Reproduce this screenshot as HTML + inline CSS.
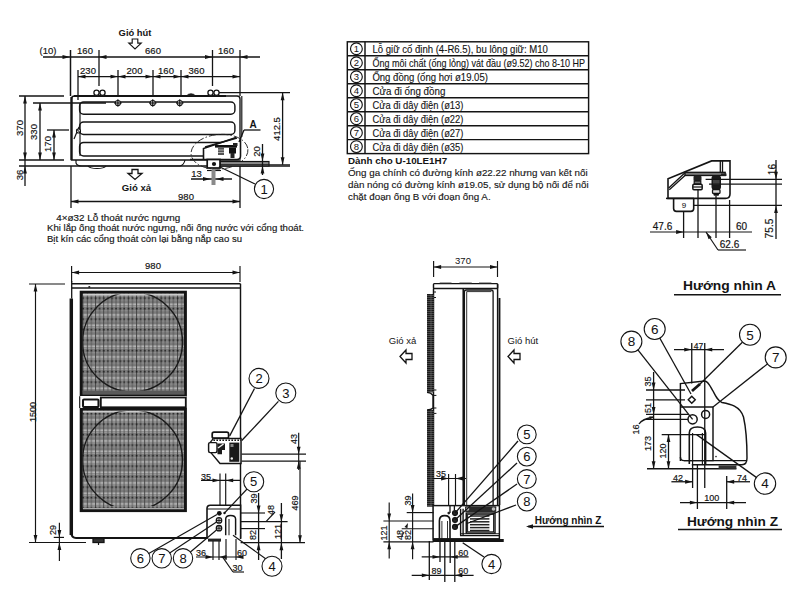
<!DOCTYPE html>
<html><head><meta charset="utf-8"><style>
html,body{margin:0;padding:0;background:#fff;width:800px;height:598px;overflow:hidden}
svg{display:block;font-family:"Liberation Sans",sans-serif}
</style></head><body>
<svg width="800" height="598" viewBox="0 0 800 598">
<defs>
<pattern id="mesh" width="8.2" height="10.5" patternUnits="userSpaceOnUse" x="102.3" y="323.3">
<rect width="8.2" height="10.5" fill="#7a7a7a"/>
<rect x="0" y="1.4" width="8.2" height="1.2" fill="#cccccc"/>
<rect x="0" y="3.6" width="8.2" height="0.9" fill="#aaaaaa"/>
<rect x="0" y="8" width="8.2" height="0.8" fill="#999"/>
<rect x="1" y="0" width="0.9" height="10.5" fill="#404040"/>
<rect x="5.1" y="0" width="0.8" height="10.5" fill="#505050"/>
<rect x="0.7" y="5.6" width="1.6" height="1.6" fill="#1e1e1e"/>
<rect x="4.8" y="5.6" width="1.5" height="1.5" fill="#262626"/>
</pattern>
<pattern id="coil" width="8" height="2" patternUnits="userSpaceOnUse" x="427" y="294">
<rect width="8" height="2" fill="#1a1a1a"/><rect y="1" width="8" height="0.6" fill="#6a6a6a"/>
</pattern>
<pattern id="heat" width="30" height="4" patternUnits="userSpaceOnUse">
<rect width="30" height="4" fill="#fff"/><rect y="1.5" width="30" height="1.5" fill="#333"/>
</pattern>
</defs>
<rect width="800" height="598" fill="#fff"/>
<text x="135" y="35.8" font-size="9.4" font-weight="bold" text-anchor="middle" fill="#141414" >Gió hút</text>
<polygon points="132.2,39 137.8,39 137.8,43.2 141.2,43.2 135,49 128.8,43.2 132.2,43.2" stroke="#141414" stroke-width="1.16" fill="#fff" />
<text x="48" y="54.2" font-size="9.5" stroke="#141414" stroke-width="0.18" text-anchor="middle" fill="#141414" >(10)</text>
<line x1="43" y1="57" x2="260" y2="57" stroke="#141414" stroke-width="1.3" />
<polygon points="70.00,57.00 62.50,55.10 62.50,58.90" fill="#141414" stroke="none"/>
<polygon points="99.00,57.00 106.50,55.10 106.50,58.90" fill="#141414" stroke="none"/>
<polygon points="212.50,57.00 205.00,55.10 205.00,58.90" fill="#141414" stroke="none"/>
<polygon points="240.00,57.00 247.50,55.10 247.50,58.90" fill="#141414" stroke="none"/>
<text x="85" y="54.2" font-size="9.5" stroke="#141414" stroke-width="0.18" text-anchor="middle" fill="#141414" >160</text>
<text x="153" y="54.2" font-size="9.5" stroke="#141414" stroke-width="0.18" text-anchor="middle" fill="#141414" >660</text>
<text x="226" y="54.2" font-size="9.5" stroke="#141414" stroke-width="0.18" text-anchor="middle" fill="#141414" >160</text>
<line x1="70.5" y1="50" x2="70.5" y2="96" stroke="#141414" stroke-width="1.49" />
<line x1="99" y1="50" x2="99" y2="86" stroke="#141414" stroke-width="1.3" />
<line x1="212.5" y1="50" x2="212.5" y2="86" stroke="#141414" stroke-width="1.3" />
<line x1="240" y1="50" x2="240" y2="96" stroke="#141414" stroke-width="1.3" />
<line x1="78" y1="76.6" x2="240" y2="76.6" stroke="#141414" stroke-width="1.3" />
<line x1="78" y1="70" x2="78" y2="100" stroke="#141414" stroke-width="1.3" />
<line x1="118" y1="70" x2="118" y2="96" stroke="#141414" stroke-width="1.3" />
<line x1="153" y1="70" x2="153" y2="96" stroke="#141414" stroke-width="1.3" />
<line x1="181" y1="70" x2="181" y2="96" stroke="#141414" stroke-width="1.3" />
<polygon points="78.00,76.60 85.50,74.70 85.50,78.50" fill="#141414" stroke="none"/>
<polygon points="118.00,76.60 110.50,74.70 110.50,78.50" fill="#141414" stroke="none"/>
<polygon points="118.00,76.60 125.50,74.70 125.50,78.50" fill="#141414" stroke="none"/>
<polygon points="153.00,76.60 145.50,74.70 145.50,78.50" fill="#141414" stroke="none"/>
<polygon points="153.00,76.60 160.50,74.70 160.50,78.50" fill="#141414" stroke="none"/>
<polygon points="181.00,76.60 173.50,74.70 173.50,78.50" fill="#141414" stroke="none"/>
<polygon points="181.00,76.60 188.50,74.70 188.50,78.50" fill="#141414" stroke="none"/>
<polygon points="240.00,76.60 232.50,74.70 232.50,78.50" fill="#141414" stroke="none"/>
<text x="88" y="74" font-size="9.5" stroke="#141414" stroke-width="0.18" text-anchor="middle" fill="#141414" >230</text>
<text x="134.5" y="74" font-size="9.5" stroke="#141414" stroke-width="0.18" text-anchor="middle" fill="#141414" >200</text>
<text x="166" y="74" font-size="9.5" stroke="#141414" stroke-width="0.18" text-anchor="middle" fill="#141414" >160</text>
<text x="196.5" y="74" font-size="9.5" stroke="#141414" stroke-width="0.18" text-anchor="middle" fill="#141414" >360</text>
<path d="M71.5,160 L71.5,99 Q71.5,96 74.5,96 L237,96 Q240,96 240,99 L240,160 Z" stroke="#141414" stroke-width="1.38" fill="none" />
<line x1="71.5" y1="97" x2="71.5" y2="160" stroke="#141414" stroke-width="2.3" />
<line x1="241.8" y1="96" x2="241.8" y2="137" stroke="#141414" stroke-width="1.16" />
<line x1="74" y1="96" x2="226" y2="96" stroke="#141414" stroke-width="2.07" />
<path d="M186.5,96 Q188,93.8 191,93.8 Q194,93.8 195.5,96 Z" stroke="#141414" stroke-width="0.87" fill="#222" />
<circle cx="96.5" cy="92.8" r="2.6" stroke="#141414" stroke-width="1.3" fill="#fff"/>
<circle cx="102.5" cy="92.8" r="2.6" stroke="#141414" stroke-width="1.3" fill="#fff"/>
<circle cx="210.5" cy="92.8" r="2.6" stroke="#141414" stroke-width="1.3" fill="#fff"/>
<circle cx="216.5" cy="92.8" r="2.6" stroke="#141414" stroke-width="1.3" fill="#fff"/>
<line x1="80" y1="103" x2="80" y2="156" stroke="#141414" stroke-width="1.16" />
<rect x="79.6" y="102" width="155.3" height="12.25" rx="4" stroke="#141414" stroke-width="1.45" fill="none" />
<rect x="79.6" y="122" width="155.3" height="12.5" rx="4" stroke="#141414" stroke-width="1.45" fill="none" />
<rect x="79.6" y="142.4" width="155.3" height="13.5" rx="4" stroke="#141414" stroke-width="1.45" fill="none" />
<circle cx="117.9" cy="103" r="2.6" stroke="#141414" stroke-width="1.01" fill="#fff"/>
<line x1="114.10000000000001" y1="103" x2="121.7" y2="103" stroke="#141414" stroke-width="1.16" />
<line x1="117.9" y1="99.2" x2="117.9" y2="106.8" stroke="#141414" stroke-width="1.16" />
<circle cx="152.75" cy="103" r="2.6" stroke="#141414" stroke-width="1.01" fill="#fff"/>
<line x1="148.95" y1="103" x2="156.55" y2="103" stroke="#141414" stroke-width="1.16" />
<line x1="152.75" y1="99.2" x2="152.75" y2="106.8" stroke="#141414" stroke-width="1.16" />
<circle cx="179.75" cy="103" r="2.6" stroke="#141414" stroke-width="1.01" fill="#fff"/>
<line x1="175.95" y1="103" x2="183.55" y2="103" stroke="#141414" stroke-width="1.16" />
<line x1="179.75" y1="99.2" x2="179.75" y2="106.8" stroke="#141414" stroke-width="1.16" />
<line x1="74" y1="139" x2="79" y2="127" stroke="#141414" stroke-width="1.16" />
<circle cx="78.5" cy="131" r="2" stroke="#141414" stroke-width="1.16" fill="#fff"/>
<line x1="76.5" y1="129" x2="80.5" y2="133" stroke="#141414" stroke-width="1.01" />
<line x1="19" y1="96" x2="64" y2="96" stroke="#141414" stroke-width="1.3" />
<line x1="33" y1="103" x2="106" y2="103" stroke="#141414" stroke-width="1.3" />
<line x1="47" y1="130" x2="69" y2="130" stroke="#141414" stroke-width="1.3" />
<line x1="19" y1="160" x2="64" y2="160" stroke="#141414" stroke-width="1.3" />
<line x1="19" y1="166" x2="290" y2="166" stroke="#141414" stroke-width="1.3" />
<path d="M76,160 L76,163 Q77,166 82,166 L180,166 Q184,165 185,160" stroke="#141414" stroke-width="1.16" fill="none" />
<path d="M88,166 Q90,168.5 97,168.5 Q104,168.5 106,166" stroke="#141414" stroke-width="1.16" fill="none" />
<line x1="25" y1="96" x2="25" y2="186" stroke="#141414" stroke-width="1.3" />
<polygon points="25.00,96.00 23.10,103.50 26.90,103.50" fill="#141414" stroke="none"/>
<polygon points="25.00,160.00 23.10,152.50 26.90,152.50" fill="#141414" stroke="none"/>
<polygon points="25.00,166.00 23.10,173.50 26.90,173.50" fill="#141414" stroke="none"/>
<line x1="40" y1="103" x2="40" y2="160" stroke="#141414" stroke-width="1.3" />
<polygon points="40.00,103.00 38.10,110.50 41.90,110.50" fill="#141414" stroke="none"/>
<polygon points="40.00,160.00 38.10,152.50 41.90,152.50" fill="#141414" stroke="none"/>
<line x1="54" y1="130" x2="54" y2="160" stroke="#141414" stroke-width="1.3" />
<polygon points="54.00,130.00 52.10,137.50 55.90,137.50" fill="#141414" stroke="none"/>
<polygon points="54.00,160.00 52.10,152.50 55.90,152.50" fill="#141414" stroke="none"/>
<text transform="translate(19.5,128) rotate(-90)" x="0" y="3.42" font-size="9.5" stroke="#141414" stroke-width="0.18" text-anchor="middle" fill="#141414" >370</text>
<text transform="translate(33.5,132) rotate(-90)" x="0" y="3.42" font-size="9.5" stroke="#141414" stroke-width="0.18" text-anchor="middle" fill="#141414" >330</text>
<text transform="translate(47.5,144) rotate(-90)" x="0" y="3.42" font-size="9.5" stroke="#141414" stroke-width="0.18" text-anchor="middle" fill="#141414" >170</text>
<text transform="translate(19.5,175) rotate(-90)" x="0" y="3.42" font-size="9.5" stroke="#141414" stroke-width="0.18" text-anchor="middle" fill="#141414" >36</text>
<polygon points="203.5,159.5 203.5,148.5 236,137.5 240.5,137.5 240.5,159.5" fill="#fff" stroke="none"/>
<path d="M203.5,159.5 L203.5,148.5 L236,137.5" stroke="#141414" stroke-width="1.59" fill="none" />
<line x1="205" y1="147" x2="237" y2="138" stroke="#141414" stroke-width="1.3" />
<path d="M240.5,137 L240.5,156 Q240.5,159.5 237,159.5 L190,159.5" stroke="#141414" stroke-width="1.59" fill="none" />
<ellipse cx="219.5" cy="151.75" rx="28.5" ry="17.3" transform="rotate(-5 219.5 151.75)" fill="none" stroke="#222" stroke-width="0.9" stroke-dasharray="7,2,1.5,2"/>
<rect x="215" y="145" width="22" height="2.6" rx="0" stroke="#141414" stroke-width="0" fill="#111" />
<rect x="233" y="143" width="4.5" height="3" rx="0" stroke="#141414" stroke-width="0" fill="#222" />
<rect x="218" y="147.5" width="6" height="7.5" rx="0" stroke="#141414" stroke-width="0" fill="#555" />
<line x1="218" y1="150" x2="224" y2="150" stroke="#bbb" stroke-width="0.87" />
<line x1="218" y1="152.5" x2="224" y2="152.5" stroke="#bbb" stroke-width="0.87" />
<rect x="229" y="147.5" width="7" height="6" rx="0" stroke="#141414" stroke-width="0" fill="#111" />
<rect x="230.5" y="153" width="4" height="5" rx="0" stroke="#141414" stroke-width="0" fill="#222" />
<rect x="220" y="161.5" width="49" height="4.5" rx="0" stroke="#141414" stroke-width="1.16" fill="#8a8a8a" />
<rect x="207.2" y="159.5" width="12.8" height="8.5" rx="0" stroke="#141414" stroke-width="1.72" fill="#fff" />
<circle cx="214" cy="164" r="2.1" stroke="#141414" stroke-width="0" fill="#111"/>
<line x1="207" y1="170.5" x2="221" y2="170.5" stroke="#141414" stroke-width="1.16" />
<line x1="220" y1="164.7" x2="290" y2="164.7" stroke="#141414" stroke-width="1.01" />
<line x1="219" y1="92.7" x2="290" y2="92.7" stroke="#141414" stroke-width="1.3" />
<line x1="282.6" y1="92.7" x2="282.6" y2="164.7" stroke="#141414" stroke-width="1.3" />
<polygon points="282.60,92.70 280.70,100.20 284.50,100.20" fill="#141414" stroke="none"/>
<polygon points="282.60,164.70 280.70,157.20 284.50,157.20" fill="#141414" stroke="none"/>
<text transform="translate(277,129) rotate(-90)" x="0" y="3.42" font-size="9.5" stroke="#141414" stroke-width="0.18" text-anchor="middle" fill="#141414" >412.5</text>
<text x="253" y="128" font-size="10" font-weight="bold" text-anchor="middle" fill="#141414" >A</text>
<line x1="244" y1="130" x2="260.5" y2="130" stroke="#141414" stroke-width="1.3" />
<line x1="244" y1="130" x2="239" y2="142" stroke="#141414" stroke-width="1.3" />
<text transform="translate(257,151.5) rotate(-90)" x="0" y="3.42" font-size="9.5" stroke="#141414" stroke-width="0.18" text-anchor="middle" fill="#141414" >20</text>
<line x1="262.5" y1="144" x2="262.5" y2="175" stroke="#141414" stroke-width="1.3" />
<polygon points="262.50,161.00 260.60,153.50 264.40,153.50" fill="#141414" stroke="none"/>
<polygon points="262.50,166.00 260.60,173.50 264.40,173.50" fill="#141414" stroke="none"/>
<line x1="255" y1="184" x2="219" y2="166.5" stroke="#141414" stroke-width="1.3" />
<circle cx="264" cy="189" r="9.6" stroke="#141414" stroke-width="1.09" fill="#fff"/>
<text x="264" y="193.68" font-size="13" stroke="#141414" stroke-width="0.05" text-anchor="middle" fill="#141414" >1</text>
<text x="196.5" y="177" font-size="9.5" stroke="#141414" stroke-width="0.18" text-anchor="middle" fill="#141414" >13</text>
<line x1="191" y1="179" x2="232" y2="179" stroke="#141414" stroke-width="1.3" />
<polygon points="210.50,179.00 203.00,177.10 203.00,180.90" fill="#141414" stroke="none"/>
<polygon points="216.00,179.00 223.50,177.10 223.50,180.90" fill="#141414" stroke="none"/>
<rect x="211.5" y="169" width="4" height="16" rx="0" stroke="#141414" stroke-width="0" fill="#8a8a8a" />
<line x1="71" y1="166" x2="71" y2="208" stroke="#141414" stroke-width="1.3" />
<line x1="240" y1="166" x2="240" y2="208" stroke="#141414" stroke-width="1.3" />
<line x1="71" y1="201.5" x2="240" y2="201.5" stroke="#141414" stroke-width="1.3" />
<polygon points="71.00,201.50 78.50,199.60 78.50,203.40" fill="#141414" stroke="none"/>
<polygon points="240.00,201.50 232.50,199.60 232.50,203.40" fill="#141414" stroke="none"/>
<text x="186" y="200" font-size="9.5" stroke="#141414" stroke-width="0.18" text-anchor="middle" fill="#141414" >980</text>
<polygon points="132,169.5 138,169.5 138,173.5 142,173.5 135,179.5 128,173.5 132,173.5" stroke="#141414" stroke-width="1.3" fill="#fff" />
<text x="136.5" y="191" font-size="9.6" font-weight="bold" text-anchor="middle" fill="#141414" >Gió xả</text>
<text x="56.3" y="220.6" font-size="9.5" stroke="#141414" stroke-width="0.15" text-anchor="start" fill="#141414" textLength="124" lengthAdjust="spacingAndGlyphs">4×ø32 Lỗ thoát nước ngưng</text>
<text x="47" y="231.2" font-size="9.5" stroke="#141414" stroke-width="0.15" text-anchor="start" fill="#141414" textLength="257" lengthAdjust="spacingAndGlyphs">Khi lắp ống thoát nước ngưng, nối ống nước với cổng thoát.</text>
<text x="47" y="241.8" font-size="9.5" stroke="#141414" stroke-width="0.15" text-anchor="start" fill="#141414" textLength="195" lengthAdjust="spacingAndGlyphs">Bịt kín các cổng thoát còn lại bằng nắp cao su</text>
<rect x="347.3" y="41.8" width="241.3" height="111.8" rx="0" stroke="#141414" stroke-width="1.45" fill="none" />
<line x1="365" y1="41.8" x2="365" y2="153.6" stroke="#141414" stroke-width="1.45" />
<line x1="347.3" y1="55.775" x2="588.6" y2="55.775" stroke="#141414" stroke-width="1.45" />
<line x1="347.3" y1="69.75" x2="588.6" y2="69.75" stroke="#141414" stroke-width="1.45" />
<line x1="347.3" y1="83.725" x2="588.6" y2="83.725" stroke="#141414" stroke-width="1.45" />
<line x1="347.3" y1="97.69999999999999" x2="588.6" y2="97.69999999999999" stroke="#141414" stroke-width="1.45" />
<line x1="347.3" y1="111.675" x2="588.6" y2="111.675" stroke="#141414" stroke-width="1.45" />
<line x1="347.3" y1="125.64999999999999" x2="588.6" y2="125.64999999999999" stroke="#141414" stroke-width="1.45" />
<line x1="347.3" y1="139.625" x2="588.6" y2="139.625" stroke="#141414" stroke-width="1.45" />
<circle cx="356.4" cy="48.787499999999994" r="5.9" stroke="#141414" stroke-width="1.16" fill="none"/>
<text x="356.4" y="52.21" font-size="9.5" text-anchor="middle" fill="#141414" >1</text>
<text x="372.4" y="53.08749999999999" font-size="10.2" stroke="#141414" stroke-width="0.12" text-anchor="start" fill="#141414" textLength="175.5" lengthAdjust="spacingAndGlyphs">Lỗ giữ cố định (4-R6.5), bu lông giữ: M10</text>
<circle cx="356.4" cy="62.762499999999996" r="5.9" stroke="#141414" stroke-width="1.16" fill="none"/>
<text x="356.4" y="66.18" font-size="9.5" text-anchor="middle" fill="#141414" >2</text>
<text x="372.4" y="67.0625" font-size="10.2" stroke="#141414" stroke-width="0.12" text-anchor="start" fill="#141414" textLength="212.5" lengthAdjust="spacingAndGlyphs">Ống môi chất (ống lỏng) vát đầu (ø9.52) cho 8-10 HP</text>
<circle cx="356.4" cy="76.7375" r="5.9" stroke="#141414" stroke-width="1.16" fill="none"/>
<text x="356.4" y="80.16" font-size="9.5" text-anchor="middle" fill="#141414" >3</text>
<text x="372.4" y="81.0375" font-size="10.2" stroke="#141414" stroke-width="0.12" text-anchor="start" fill="#141414" textLength="115.5" lengthAdjust="spacingAndGlyphs">Ống đồng (ống hơi ø19.05)</text>
<circle cx="356.4" cy="90.7125" r="5.9" stroke="#141414" stroke-width="1.16" fill="none"/>
<text x="356.4" y="94.13" font-size="9.5" text-anchor="middle" fill="#141414" >4</text>
<text x="372.4" y="95.0125" font-size="10.2" stroke="#141414" stroke-width="0.12" text-anchor="start" fill="#141414" textLength="73" lengthAdjust="spacingAndGlyphs">Cửa đi ống đồng</text>
<circle cx="356.4" cy="104.6875" r="5.9" stroke="#141414" stroke-width="1.16" fill="none"/>
<text x="356.4" y="108.11" font-size="9.5" text-anchor="middle" fill="#141414" >5</text>
<text x="372.4" y="108.9875" font-size="10.2" stroke="#141414" stroke-width="0.12" text-anchor="start" fill="#141414" textLength="91" lengthAdjust="spacingAndGlyphs">Cửa đi dây điện (ø13)</text>
<circle cx="356.4" cy="118.6625" r="5.9" stroke="#141414" stroke-width="1.16" fill="none"/>
<text x="356.4" y="122.08" font-size="9.5" text-anchor="middle" fill="#141414" >6</text>
<text x="372.4" y="122.96249999999999" font-size="10.2" stroke="#141414" stroke-width="0.12" text-anchor="start" fill="#141414" textLength="91" lengthAdjust="spacingAndGlyphs">Cửa đi dây điện (ø22)</text>
<circle cx="356.4" cy="132.6375" r="5.9" stroke="#141414" stroke-width="1.16" fill="none"/>
<text x="356.4" y="136.06" font-size="9.5" text-anchor="middle" fill="#141414" >7</text>
<text x="372.4" y="136.9375" font-size="10.2" stroke="#141414" stroke-width="0.12" text-anchor="start" fill="#141414" textLength="91" lengthAdjust="spacingAndGlyphs">Cửa đi dây điện (ø27)</text>
<circle cx="356.4" cy="146.6125" r="5.9" stroke="#141414" stroke-width="1.16" fill="none"/>
<text x="356.4" y="150.03" font-size="9.5" text-anchor="middle" fill="#141414" >8</text>
<text x="372.4" y="150.91250000000002" font-size="10.2" stroke="#141414" stroke-width="0.12" text-anchor="start" fill="#141414" textLength="91" lengthAdjust="spacingAndGlyphs">Cửa đi dây điện (ø35)</text>
<text x="348" y="164.2" font-size="9.8" font-weight="bold" text-anchor="start" fill="#141414" >Dành cho U-10LE1H7</text>
<text x="348" y="176.4" font-size="9.8" stroke="#141414" stroke-width="0.12" text-anchor="start" fill="#141414" >Ống ga chính có đường kính ø22.22 nhưng van kết nối</text>
<text x="348" y="188.3" font-size="9.8" stroke="#141414" stroke-width="0.12" text-anchor="start" fill="#141414" >dàn nóng có đường kính ø19.05, sử dụng bộ nối để nối</text>
<text x="348" y="200.3" font-size="9.8" stroke="#141414" stroke-width="0.12" text-anchor="start" fill="#141414" >chặt đoạn ống B với đoạn ống A.</text>
<path d="M668,198.4 L668,178.8 L711.6,160.9 L730,160.9 L730,194 Q730,198.4 725.5,198.4 Z" stroke="#141414" stroke-width="1.59" fill="#fff" />
<line x1="666" y1="198.4" x2="694" y2="198.4" stroke="#141414" stroke-width="1.49" />
<line x1="668.7" y1="188" x2="685" y2="172.8" stroke="#141414" stroke-width="1.3" />
<line x1="669.3" y1="189.7" x2="687.2" y2="173.4" stroke="#141414" stroke-width="1.3" />
<line x1="720.3" y1="160.9" x2="720.3" y2="172.8" stroke="#141414" stroke-width="1.3" />
<line x1="722.5" y1="160.9" x2="722.5" y2="172.8" stroke="#141414" stroke-width="1.3" />
<rect x="685" y="172.3" width="40.2" height="3.2" rx="0" stroke="#141414" stroke-width="1.3" fill="#777" />
<rect x="721" y="173.5" width="5.5" height="2.5" rx="0" stroke="#141414" stroke-width="0" fill="#222" />
<rect x="693.5" y="175.5" width="8" height="5.5" rx="1.5" stroke="#141414" stroke-width="0" fill="#222" />
<rect x="694.2" y="181" width="6.6" height="3" rx="0" stroke="#141414" stroke-width="1.16" fill="#777" />
<rect x="692.8" y="184.2" width="9.4" height="5.5" rx="1.2" stroke="#141414" stroke-width="1.45" fill="#eee" />
<line x1="692.8" y1="187" x2="702.2" y2="187" stroke="#141414" stroke-width="1.16" />
<rect x="711.5" y="175.5" width="9.5" height="14" rx="2.5" stroke="#141414" stroke-width="0" fill="#1a1a1a" />
<rect x="713" y="179" width="6.5" height="6" rx="0" stroke="#141414" stroke-width="0" fill="#444" />
<rect x="712.5" y="189.5" width="7.5" height="4" rx="1" stroke="#141414" stroke-width="1.3" fill="#ddd" />
<rect x="713.5" y="193.5" width="5.5" height="2.2" rx="1" stroke="#141414" stroke-width="0" fill="#111" />
<path d="M673.6,198.4 L673.6,208.5 Q673.6,211.4 676.5,211.4 L690.8,211.4 Q693.7,211.4 693.7,208.5 L693.7,198.4" stroke="#141414" stroke-width="1.59" fill="none" />
<text x="684" y="208.38" font-size="8" stroke="#141414" stroke-width="0.05" text-anchor="middle" fill="#141414" >9</text>
<line x1="705.6" y1="179.3" x2="782" y2="179.3" stroke="#141414" stroke-width="1.3" />
<line x1="709" y1="184.2" x2="782" y2="184.2" stroke="#141414" stroke-width="1.3" />
<line x1="693.7" y1="205.4" x2="782" y2="205.4" stroke="#141414" stroke-width="1.3" />
<line x1="776" y1="160" x2="776" y2="239" stroke="#141414" stroke-width="1.3" />
<polygon points="776.00,179.30 774.10,171.80 777.90,171.80" fill="#141414" stroke="none"/>
<polygon points="776.00,205.40 774.10,212.90 777.90,212.90" fill="#141414" stroke="none"/>
<text transform="translate(772,169.5) rotate(-90)" x="0" y="3.67" font-size="10.2" stroke="#141414" stroke-width="0.18" text-anchor="middle" fill="#141414" >16</text>
<text transform="translate(769,228.5) rotate(-90)" x="0" y="3.67" font-size="10.2" stroke="#141414" stroke-width="0.18" text-anchor="middle" fill="#141414" >75.5</text>
<line x1="683.6" y1="211.4" x2="683.6" y2="238" stroke="#141414" stroke-width="1.3" />
<line x1="698" y1="189.7" x2="698" y2="238" stroke="#141414" stroke-width="1.3" />
<line x1="716" y1="195.7" x2="716" y2="238" stroke="#141414" stroke-width="1.3" />
<line x1="729.6" y1="200" x2="729.6" y2="238" stroke="#141414" stroke-width="1.3" />
<line x1="650" y1="232" x2="752" y2="232" stroke="#141414" stroke-width="1.16" />
<polygon points="683.60,232.00 676.10,230.10 676.10,233.90" fill="#141414" stroke="none"/>
<text x="662.5" y="230" font-size="10" stroke="#141414" stroke-width="0.18" text-anchor="middle" fill="#141414" >47.6</text>
<text x="741.5" y="230" font-size="10" stroke="#141414" stroke-width="0.18" text-anchor="middle" fill="#141414" >60</text>
<line x1="706" y1="232" x2="718" y2="250" stroke="#141414" stroke-width="1.16" />
<line x1="718" y1="250" x2="746" y2="250" stroke="#141414" stroke-width="1.16" />
<polygon points="706.00,232.00 711.74,237.19 708.58,239.29" fill="#141414" stroke="none"/>
<text x="729.5" y="248" font-size="10" stroke="#141414" stroke-width="0.18" text-anchor="middle" fill="#141414" >62.6</text>
<text x="729.5" y="290" font-size="13.6" font-weight="bold" text-anchor="middle" fill="#141414" textLength="93" lengthAdjust="spacingAndGlyphs">Hướng nhìn A</text>
<line x1="674" y1="294.7" x2="781" y2="294.7" stroke="#141414" stroke-width="1.49" />
<line x1="691.75" y1="343" x2="691.75" y2="383.6" stroke="#141414" stroke-width="1.3" />
<line x1="704.75" y1="343" x2="704.75" y2="488" stroke="#141414" stroke-width="1.3" />
<line x1="674" y1="349.6" x2="724" y2="349.6" stroke="#141414" stroke-width="1.3" />
<polygon points="691.75,349.60 684.25,347.70 684.25,351.50" fill="#141414" stroke="none"/>
<polygon points="704.75,349.60 712.25,347.70 712.25,351.50" fill="#141414" stroke="none"/>
<text x="698.5" y="349" font-size="8.5" stroke="#141414" stroke-width="0.18" text-anchor="middle" fill="#141414" >47</text>
<path d="M680.4,461 L680.4,383.6 L704.75,381 C708,381 710,386 713,391 C716,397 718,401 722,402.5 C730,404 740,406 743.5,417 C746,428 747,445 747,458 Q747,464.7 742,464.7 L691.75,464.7" stroke="#141414" stroke-width="1.45" fill="none" />
<path d="M680.4,407 L713,407 L713,460.6 L684,460.6 Q680.4,460.6 680.4,457" stroke="#141414" stroke-width="1.45" fill="none" />
<line x1="684" y1="460.6" x2="747" y2="460.6" stroke="#141414" stroke-width="1.3" />
<circle cx="692.6" cy="419.3" r="4.6" stroke="#141414" stroke-width="1.49" fill="none"/>
<circle cx="705.6" cy="414.4" r="4" stroke="#141414" stroke-width="1.49" fill="none"/>
<polygon points="691.75,396.3 695.25,399.8 691.75,403.3 688.25,399.8" stroke="#141414" stroke-width="1.45" fill="none" />
<path d="M700,384 L692,391" stroke="#141414" stroke-width="2.76" fill="none" />
<path d="M689.3,464 L689.3,433 Q689.3,427 697.45,427 Q705.6,427 705.6,433 L705.6,464" stroke="#141414" stroke-width="1.59" fill="none" />
<line x1="692.6" y1="433" x2="692.6" y2="464" stroke="#141414" stroke-width="1.16" />
<line x1="702.4" y1="433" x2="702.4" y2="464" stroke="#141414" stroke-width="1.16" />
<line x1="647" y1="468.75" x2="736.4" y2="468.75" stroke="#141414" stroke-width="1.45" />
<rect x="718.6" y="465.5" width="17.8" height="3.3" rx="0" stroke="#141414" stroke-width="0" fill="#333" />
<circle cx="716" cy="456.6" r="0.8" stroke="#141414" stroke-width="0" fill="#222"/>
<line x1="646" y1="390" x2="685" y2="390" stroke="#141414" stroke-width="1.3" />
<line x1="646" y1="399.8" x2="685" y2="399.8" stroke="#141414" stroke-width="1.3" />
<line x1="646" y1="414.4" x2="688" y2="414.4" stroke="#141414" stroke-width="1.3" />
<line x1="646" y1="419.3" x2="688" y2="419.3" stroke="#141414" stroke-width="1.3" />
<line x1="661.7" y1="434.6" x2="704.75" y2="434.6" stroke="#141414" stroke-width="1.3" />
<line x1="653.6" y1="372" x2="653.6" y2="468.75" stroke="#141414" stroke-width="1.3" />
<polygon points="653.60,468.75 651.70,461.25 655.50,461.25" fill="#141414" stroke="none"/>
<polygon points="653.60,390.00 651.70,382.50 655.50,382.50" fill="#141414" stroke="none"/>
<polygon points="653.60,414.40 651.70,406.90 655.50,406.90" fill="#141414" stroke="none"/>
<line x1="668.5" y1="434.6" x2="668.5" y2="468.75" stroke="#141414" stroke-width="1.3" />
<polygon points="668.50,434.60 666.60,442.10 670.40,442.10" fill="#141414" stroke="none"/>
<polygon points="668.50,468.75 666.60,461.25 670.40,461.25" fill="#141414" stroke="none"/>
<text transform="translate(648.2,443.5) rotate(-90)" x="0" y="3.24" font-size="9" stroke="#141414" stroke-width="0.18" text-anchor="middle" fill="#141414" >173</text>
<text transform="translate(662.4,451) rotate(-90)" x="0" y="3.24" font-size="9" stroke="#141414" stroke-width="0.18" text-anchor="middle" fill="#141414" >120</text>
<text transform="translate(648.2,408) rotate(-90)" x="0" y="3.24" font-size="9" stroke="#141414" stroke-width="0.18" text-anchor="middle" fill="#141414" >51</text>
<text transform="translate(648.2,381.5) rotate(-90)" x="0" y="3.24" font-size="9" stroke="#141414" stroke-width="0.18" text-anchor="middle" fill="#141414" >35</text>
<text transform="translate(636,429.5) rotate(-90)" x="0" y="3.24" font-size="9" stroke="#141414" stroke-width="0.18" text-anchor="middle" fill="#141414" >16</text>
<path d="M639,424 Q642,419 653.6,417" stroke="#141414" stroke-width="1.3" fill="none" />
<polygon points="653.60,417.00 649.92,419.16 649.40,416.21" fill="#141414" stroke="none"/>
<line x1="692.6" y1="464.7" x2="692.6" y2="488" stroke="#141414" stroke-width="1.3" />
<line x1="697.4" y1="464.7" x2="697.4" y2="509" stroke="#141414" stroke-width="1.3" />
<line x1="726.7" y1="476" x2="726.7" y2="509" stroke="#141414" stroke-width="1.3" />
<line x1="671.4" y1="481.75" x2="692.6" y2="481.75" stroke="#141414" stroke-width="1.3" />
<polygon points="692.60,481.75 685.10,479.85 685.10,483.65" fill="#141414" stroke="none"/>
<line x1="726.7" y1="481.75" x2="750" y2="481.75" stroke="#141414" stroke-width="1.3" />
<polygon points="726.70,481.75 734.20,479.85 734.20,483.65" fill="#141414" stroke="none"/>
<text x="678" y="481" font-size="9" stroke="#141414" stroke-width="0.18" text-anchor="middle" fill="#141414" >42</text>
<text x="742" y="481" font-size="9" stroke="#141414" stroke-width="0.18" text-anchor="middle" fill="#141414" >74</text>
<line x1="680" y1="502.6" x2="746" y2="502.6" stroke="#141414" stroke-width="1.3" />
<polygon points="697.40,502.60 689.90,500.70 689.90,504.50" fill="#141414" stroke="none"/>
<polygon points="726.70,502.60 734.20,500.70 734.20,504.50" fill="#141414" stroke="none"/>
<text x="711.7" y="501" font-size="9" stroke="#141414" stroke-width="0.18" text-anchor="middle" fill="#141414" >100</text>
<line x1="654.7" y1="329" x2="691" y2="394" stroke="#141414" stroke-width="1.3" />
<line x1="631.4" y1="341.6" x2="692.6" y2="419.3" stroke="#141414" stroke-width="1.3" />
<line x1="750" y1="334.8" x2="699" y2="385" stroke="#141414" stroke-width="1.3" />
<line x1="775.7" y1="357.4" x2="713" y2="407" stroke="#141414" stroke-width="1.3" />
<line x1="765" y1="483.6" x2="696.6" y2="434.6" stroke="#141414" stroke-width="1.3" />
<circle cx="654.7" cy="329" r="10.5" stroke="#141414" stroke-width="1.09" fill="#fff"/>
<text x="654.7" y="333.86" font-size="13.5" stroke="#141414" stroke-width="0.05" text-anchor="middle" fill="#141414" >6</text>
<circle cx="631.4" cy="341.6" r="10.5" stroke="#141414" stroke-width="1.09" fill="#fff"/>
<text x="631.4" y="346.46" font-size="13.5" stroke="#141414" stroke-width="0.05" text-anchor="middle" fill="#141414" >8</text>
<circle cx="750" cy="334.8" r="10.5" stroke="#141414" stroke-width="1.09" fill="#fff"/>
<text x="750" y="339.66" font-size="13.5" stroke="#141414" stroke-width="0.05" text-anchor="middle" fill="#141414" >5</text>
<circle cx="775.7" cy="357.4" r="10.5" stroke="#141414" stroke-width="1.09" fill="#fff"/>
<text x="775.7" y="362.26" font-size="13.5" stroke="#141414" stroke-width="0.05" text-anchor="middle" fill="#141414" >7</text>
<circle cx="765" cy="483.6" r="10.7" stroke="#141414" stroke-width="1.09" fill="#fff"/>
<text x="765" y="488.46" font-size="13.5" stroke="#141414" stroke-width="0.05" text-anchor="middle" fill="#141414" >4</text>
<text x="732.5" y="526" font-size="13.6" font-weight="bold" text-anchor="middle" fill="#141414" textLength="91" lengthAdjust="spacingAndGlyphs">Hướng nhìn Z</text>
<line x1="678" y1="529.6" x2="782" y2="529.6" stroke="#141414" stroke-width="1.49" />
<line x1="71.6" y1="266" x2="71.6" y2="282" stroke="#141414" stroke-width="1.16" />
<line x1="240" y1="266" x2="240" y2="282" stroke="#141414" stroke-width="1.16" />
<line x1="71.6" y1="272.5" x2="240" y2="272.5" stroke="#141414" stroke-width="1.16" />
<polygon points="71.60,272.50 79.10,270.60 79.10,274.40" fill="#141414" stroke="none"/>
<polygon points="240.00,272.50 232.50,270.60 232.50,274.40" fill="#141414" stroke="none"/>
<text x="153" y="269" font-size="9.5" stroke="#141414" stroke-width="0.18" text-anchor="middle" fill="#141414" >980</text>
<line x1="71.7" y1="283.8" x2="240.5" y2="283.8" stroke="#141414" stroke-width="1.61" />
<line x1="71.7" y1="288" x2="240.5" y2="288" stroke="#141414" stroke-width="1.45" />
<line x1="240.5" y1="283.8" x2="240.5" y2="538" stroke="#141414" stroke-width="1.45" />
<line x1="71.7" y1="281" x2="71.7" y2="298.4" stroke="#141414" stroke-width="1.3" />
<line x1="71.3" y1="298.4" x2="71.3" y2="535" stroke="#141414" stroke-width="3.45" />
<path d="M71.3,533 Q71.8,538 76,538 L240.5,538" stroke="#141414" stroke-width="2.07" fill="none" />
<circle cx="89.3" cy="287" r="1.1" stroke="#141414" stroke-width="0" fill="#222"/>
<rect x="81.2" y="292.2" width="104.2" height="102.8" rx="0" stroke="#141414" stroke-width="2.99" fill="url(#mesh)" />
<line x1="83" y1="294.6" x2="184" y2="294.6" stroke="#ccc" stroke-width="1.59" />
<rect x="82.5" y="390.5" width="102" height="4.2" rx="0" stroke="#141414" stroke-width="0" fill="#5a5a5a" />
<clipPath id="cp291"><rect x="82.5" y="294.5" width="102" height="96"/></clipPath>
<circle cx="132.5" cy="342" r="50" fill="none" stroke="#1a1a1a" stroke-width="1.4" clip-path="url(#cp291)"/>
<rect x="81.2" y="409.2" width="104.2" height="101.40000000000002" rx="0" stroke="#141414" stroke-width="2.99" fill="url(#mesh)" />
<line x1="83" y1="411.6" x2="184" y2="411.6" stroke="#ccc" stroke-width="1.59" />
<line x1="83" y1="508.6" x2="184" y2="508.6" stroke="#aaa" stroke-width="1.45" />
<clipPath id="cp408"><rect x="82.5" y="411.5" width="102" height="94.60000000000002"/></clipPath>
<circle cx="132.5" cy="460" r="50" fill="none" stroke="#1a1a1a" stroke-width="1.4" clip-path="url(#cp408)"/>
<rect x="80" y="396" width="106.4" height="12" rx="0" stroke="#141414" stroke-width="0" fill="#fff" />
<rect x="83" y="399.5" width="15.5" height="7.6" rx="1" stroke="#141414" stroke-width="2.07" fill="#fff" />
<rect x="100.8" y="397.5" width="85" height="9.8" rx="0" stroke="#141414" stroke-width="1.84" fill="#fff" />
<line x1="79.7" y1="396.2" x2="79.7" y2="408" stroke="#141414" stroke-width="1.16" />
<line x1="29" y1="284" x2="65" y2="284" stroke="#141414" stroke-width="1.16" />
<line x1="29" y1="542.5" x2="86" y2="542.5" stroke="#141414" stroke-width="1.16" />
<line x1="35.5" y1="284" x2="35.5" y2="542.5" stroke="#141414" stroke-width="1.16" />
<polygon points="35.50,284.00 33.60,291.50 37.40,291.50" fill="#141414" stroke="none"/>
<polygon points="35.50,542.50 33.60,535.00 37.40,535.00" fill="#141414" stroke="none"/>
<text transform="translate(33,412) rotate(-90)" x="0" y="3.24" font-size="9" stroke="#141414" stroke-width="0.18" text-anchor="middle" fill="#141414" >1500</text>
<line x1="53.75" y1="537.4" x2="64" y2="537.4" stroke="#141414" stroke-width="1.16" />
<line x1="59.4" y1="522.7" x2="59.4" y2="561" stroke="#141414" stroke-width="1.16" />
<polygon points="59.40,537.40 57.50,529.90 61.30,529.90" fill="#141414" stroke="none"/>
<polygon points="59.40,542.50 57.50,550.00 61.30,550.00" fill="#141414" stroke="none"/>
<text transform="translate(53,530) rotate(-90)" x="0" y="3.24" font-size="9" stroke="#141414" stroke-width="0.18" text-anchor="middle" fill="#141414" >29</text>
<rect x="93" y="538.5" width="11" height="4" rx="0" stroke="#141414" stroke-width="1.3" fill="#333" />
<line x1="98.5" y1="542.5" x2="98.5" y2="545" stroke="#141414" stroke-width="1.16" />
<rect x="212.2" y="432.2" width="16.4" height="6" rx="1.8" stroke="#141414" stroke-width="1.72" fill="#fff" />
<path d="M213.4,438.5 L241,438.5 L241,463.5 L220,463.5 L210.9,452.6" stroke="#141414" stroke-width="1.45" fill="#fff" />
<line x1="213.4" y1="440.3" x2="241" y2="440.3" stroke="#141414" stroke-width="1.45" stroke-dasharray="1.6,1.4"/>
<rect x="208.6" y="442.6" width="8.4" height="10" rx="1.5" stroke="#141414" stroke-width="1.45" fill="#fff" />
<line x1="213.4" y1="438.5" x2="210" y2="442.6" stroke="#141414" stroke-width="1.3" />
<path d="M217.5,443.5 L225,443.5 L225,450 L222,450 L222,454.3 L217.5,454.3 Z" stroke="#141414" stroke-width="0.0" fill="#1a1a1a" />
<line x1="218" y1="448" x2="223.5" y2="444" stroke="#eee" stroke-width="1.45" />
<rect x="229.3" y="442.6" width="10" height="19.2" rx="0" stroke="#141414" stroke-width="0" fill="#1a1a1a" />
<rect x="230.5" y="444" width="3" height="3" rx="0" stroke="#141414" stroke-width="0" fill="#888" />
<circle cx="231.8" cy="458.5" r="1.2" stroke="#141414" stroke-width="0" fill="#eee"/>
<line x1="241.6" y1="454.2" x2="306" y2="454.2" stroke="#141414" stroke-width="1.3" />
<line x1="241.6" y1="461.2" x2="306" y2="461.2" stroke="#141414" stroke-width="1.3" />
<text transform="translate(294,439) rotate(-90)" x="0" y="3.24" font-size="9" stroke="#141414" stroke-width="0.18" text-anchor="middle" fill="#141414" >43</text>
<line x1="298.7" y1="432.7" x2="298.7" y2="470" stroke="#141414" stroke-width="1.16" />
<polygon points="298.70,454.20 296.80,446.70 300.60,446.70" fill="#141414" stroke="none"/>
<polygon points="298.70,461.20 296.80,468.70 300.60,468.70" fill="#141414" stroke="none"/>
<line x1="254.5" y1="388.5" x2="229.7" y2="435.9" stroke="#141414" stroke-width="1.3" />
<line x1="278.4" y1="401.4" x2="241.8" y2="440.5" stroke="#141414" stroke-width="1.3" />
<circle cx="259" cy="378.4" r="10" stroke="#141414" stroke-width="1.09" fill="#fff"/>
<text x="259" y="383.08" font-size="13" stroke="#141414" stroke-width="0.05" text-anchor="middle" fill="#141414" >2</text>
<circle cx="285.8" cy="393" r="10" stroke="#141414" stroke-width="1.09" fill="#fff"/>
<text x="285.8" y="397.68" font-size="13" stroke="#141414" stroke-width="0.05" text-anchor="middle" fill="#141414" >3</text>
<path d="M207,539 L207,508.6 Q207,505.3 210.3,505.3 L240.6,505.3 L240.6,539" stroke="#141414" stroke-width="1.59" fill="#fff" />
<line x1="207" y1="509" x2="240.6" y2="509" stroke="#141414" stroke-width="1.16" />
<circle cx="219.3" cy="513.3" r="2.4" stroke="#141414" stroke-width="0" fill="#111"/>
<circle cx="219" cy="520.4" r="2.7" stroke="#141414" stroke-width="1.3" fill="#fff"/>
<line x1="216.3" y1="520.4" x2="221.7" y2="520.4" stroke="#141414" stroke-width="1.01" />
<line x1="219" y1="517.6999999999999" x2="219" y2="523.1" stroke="#141414" stroke-width="1.01" />
<circle cx="219" cy="528.2" r="2.7" stroke="#141414" stroke-width="1.3" fill="#fff"/>
<line x1="216.3" y1="528.2" x2="221.7" y2="528.2" stroke="#141414" stroke-width="1.01" />
<line x1="219" y1="525.5" x2="219" y2="530.9000000000001" stroke="#141414" stroke-width="1.01" />
<circle cx="224.5" cy="513" r="1.2" stroke="#141414" stroke-width="0" fill="#111"/>
<line x1="229" y1="519" x2="229" y2="535.3" stroke="#141414" stroke-width="1.01" />
<path d="M225.7,535.3 L225.7,519 Q225.7,515.5 230.6,515.5 Q235.6,515.5 235.6,519 L235.6,535.3" stroke="#141414" stroke-width="1.45" fill="none" />
<text x="206" y="480" font-size="9" stroke="#141414" stroke-width="0.18" text-anchor="middle" fill="#141414" >35</text>
<line x1="201" y1="480.4" x2="240" y2="480.4" stroke="#141414" stroke-width="1.16" />
<polygon points="220.00,480.40 212.50,478.50 212.50,482.30" fill="#141414" stroke="none"/>
<polygon points="225.70,480.40 233.20,478.50 233.20,482.30" fill="#141414" stroke="none"/>
<line x1="220" y1="473.5" x2="220" y2="505.6" stroke="#141414" stroke-width="1.16" />
<line x1="225.7" y1="473.5" x2="225.7" y2="505.6" stroke="#141414" stroke-width="1.16" />
<line x1="248" y1="488" x2="224.5" y2="513" stroke="#141414" stroke-width="1.16" />
<circle cx="253.7" cy="481.7" r="10" stroke="#141414" stroke-width="1.09" fill="#fff"/>
<text x="253.7" y="486.38" font-size="13" stroke="#141414" stroke-width="0.05" text-anchor="middle" fill="#141414" >5</text>
<line x1="240.6" y1="513" x2="265" y2="513" stroke="#141414" stroke-width="1.16" />
<line x1="240.6" y1="521.7" x2="287.6" y2="521.7" stroke="#141414" stroke-width="1.16" />
<line x1="240.6" y1="528.6" x2="265" y2="528.6" stroke="#141414" stroke-width="1.16" />
<line x1="240.6" y1="542.7" x2="305" y2="542.7" stroke="#141414" stroke-width="1.16" />
<line x1="258.6" y1="493" x2="258.6" y2="560" stroke="#141414" stroke-width="1.3" />
<polygon points="258.60,513.00 256.70,505.50 260.50,505.50" fill="#141414" stroke="none"/>
<polygon points="258.60,542.70 256.70,550.20 260.50,550.20" fill="#141414" stroke="none"/>
<line x1="281.4" y1="503" x2="281.4" y2="559" stroke="#141414" stroke-width="1.3" />
<polygon points="281.40,521.70 279.50,514.20 283.30,514.20" fill="#141414" stroke="none"/>
<polygon points="281.40,542.70 279.50,550.20 283.30,550.20" fill="#141414" stroke="none"/>
<line x1="300" y1="461.2" x2="300" y2="542.7" stroke="#141414" stroke-width="1.16" />
<polygon points="300.00,542.70 298.10,535.20 301.90,535.20" fill="#141414" stroke="none"/>
<line x1="266" y1="521.7" x2="275" y2="512" stroke="#141414" stroke-width="1.16" />
<text transform="translate(253.6,498.5) rotate(-90)" x="0" y="3.24" font-size="9" stroke="#141414" stroke-width="0.18" text-anchor="middle" fill="#141414" >39</text>
<text transform="translate(271,510) rotate(-90)" x="0" y="3.24" font-size="9" stroke="#141414" stroke-width="0.18" text-anchor="middle" fill="#141414" >48</text>
<text transform="translate(253,535) rotate(-90)" x="0" y="3.24" font-size="9" stroke="#141414" stroke-width="0.18" text-anchor="middle" fill="#141414" >82</text>
<text transform="translate(277.7,531.5) rotate(-90)" x="0" y="3.24" font-size="9" stroke="#141414" stroke-width="0.18" text-anchor="middle" fill="#141414" >121</text>
<text transform="translate(295,503) rotate(-90)" x="0" y="3.24" font-size="9" stroke="#141414" stroke-width="0.18" text-anchor="middle" fill="#141414" >469</text>
<line x1="213" y1="539" x2="213" y2="560" stroke="#141414" stroke-width="1.16" />
<line x1="219" y1="539" x2="219" y2="560" stroke="#141414" stroke-width="1.16" />
<line x1="226" y1="539" x2="226" y2="560" stroke="#141414" stroke-width="1.16" />
<line x1="236" y1="539" x2="236" y2="560" stroke="#141414" stroke-width="1.16" />
<rect x="208" y="538.6" width="13" height="3" rx="0" stroke="#141414" stroke-width="0" fill="#222" />
<text x="201" y="556" font-size="9" stroke="#141414" stroke-width="0.18" text-anchor="middle" fill="#141414" >36</text>
<line x1="196" y1="557" x2="240" y2="557" stroke="#141414" stroke-width="1.16" />
<polygon points="213.00,557.00 205.50,555.10 205.50,558.90" fill="#141414" stroke="none"/>
<polygon points="219.00,557.00 226.50,555.10 226.50,558.90" fill="#141414" stroke="none"/>
<text x="242" y="556" font-size="9" stroke="#141414" stroke-width="0.18" text-anchor="middle" fill="#141414" >60</text>
<polygon points="236.00,557.00 243.50,555.10 243.50,558.90" fill="#141414" stroke="none"/>
<text x="237.5" y="571" font-size="9" stroke="#141414" stroke-width="0.18" text-anchor="middle" fill="#141414" >30</text>
<line x1="223" y1="557.6" x2="233" y2="572" stroke="#141414" stroke-width="1.16" />
<line x1="233" y1="572" x2="244" y2="572" stroke="#141414" stroke-width="1.16" />
<line x1="266" y1="559" x2="233" y2="535.3" stroke="#141414" stroke-width="1.16" />
<circle cx="272" cy="566.2" r="10" stroke="#141414" stroke-width="1.09" fill="#fff"/>
<text x="272" y="570.88" font-size="13" stroke="#141414" stroke-width="0.05" text-anchor="middle" fill="#141414" >4</text>
<line x1="140.4" y1="558.3" x2="217" y2="514.5" stroke="#141414" stroke-width="1.16" />
<line x1="161.75" y1="558.3" x2="216.5" y2="522" stroke="#141414" stroke-width="1.16" />
<line x1="183" y1="558.3" x2="216.5" y2="530" stroke="#141414" stroke-width="1.16" />
<circle cx="140.4" cy="558.3" r="9.7" stroke="#141414" stroke-width="1.09" fill="#fff"/>
<text x="140.4" y="562.98" font-size="13" stroke="#141414" stroke-width="0.05" text-anchor="middle" fill="#141414" >6</text>
<circle cx="161.75" cy="558.3" r="9.7" stroke="#141414" stroke-width="1.09" fill="#fff"/>
<text x="161.75" y="562.98" font-size="13" stroke="#141414" stroke-width="0.05" text-anchor="middle" fill="#141414" >7</text>
<circle cx="183" cy="558.3" r="9.7" stroke="#141414" stroke-width="1.09" fill="#fff"/>
<text x="183" y="562.98" font-size="13" stroke="#141414" stroke-width="0.05" text-anchor="middle" fill="#141414" >8</text>
<line x1="433.6" y1="261" x2="433.6" y2="277" stroke="#141414" stroke-width="1.16" />
<line x1="497.5" y1="261" x2="497.5" y2="277" stroke="#141414" stroke-width="1.16" />
<line x1="433.6" y1="267" x2="497.5" y2="267" stroke="#141414" stroke-width="1.16" />
<polygon points="433.60,267.00 441.10,265.10 441.10,268.90" fill="#141414" stroke="none"/>
<polygon points="497.50,267.00 490.00,265.10 490.00,268.90" fill="#141414" stroke="none"/>
<text x="463" y="264" font-size="9.5" text-anchor="middle" fill="#141414" >370</text>
<rect x="433.5" y="283.6" width="64.1" height="4.9" rx="0.8" stroke="#141414" stroke-width="1.45" fill="none" />
<rect x="439.7" y="282.6" width="11.800000000000011" height="1.4" rx="0" stroke="#141414" stroke-width="0" fill="#222" />
<rect x="459.4" y="282.6" width="12.350000000000023" height="1.4" rx="0" stroke="#141414" stroke-width="0" fill="#222" />
<rect x="479" y="282.6" width="12.399999999999977" height="1.4" rx="0" stroke="#141414" stroke-width="0" fill="#222" />
<line x1="433.5" y1="288.5" x2="433.5" y2="538.5" stroke="#141414" stroke-width="1.45" />
<line x1="463.3" y1="288.5" x2="463.3" y2="507" stroke="#141414" stroke-width="1.72" />
<path d="M464.4,507 L464.4,292 Q464.4,290 466.4,290 L491,290 Q493.1,290 493.1,292 L493.1,507" stroke="#141414" stroke-width="1.3" fill="none" />
<line x1="466.7" y1="291.6" x2="466.7" y2="507" stroke="#141414" stroke-width="0.87" />
<line x1="466.7" y1="291.6" x2="491.4" y2="291.6" stroke="#141414" stroke-width="0.87" />
<line x1="497.6" y1="283.8" x2="497.6" y2="538.5" stroke="#141414" stroke-width="1.45" />
<line x1="499.5" y1="298" x2="499.5" y2="505" stroke="#141414" stroke-width="1.84" />
<line x1="434" y1="292" x2="436" y2="292" stroke="#141414" stroke-width="1.01" />
<line x1="434" y1="297.5" x2="436" y2="297.5" stroke="#141414" stroke-width="1.01" />
<rect x="427" y="294" width="7" height="98.39999999999998" rx="0" stroke="#141414" stroke-width="0" fill="url(#coil)" />
<line x1="431" y1="294" x2="431" y2="392.4" stroke="#777" stroke-width="0.58" />
<rect x="427" y="410" width="7" height="96.69999999999999" rx="0" stroke="#141414" stroke-width="0" fill="url(#coil)" />
<line x1="431" y1="410" x2="431" y2="506.7" stroke="#777" stroke-width="0.58" />
<path d="M427,392.4 Q431,392.6 433,395.4 L433,408 Q431,410 427,410" stroke="#141414" stroke-width="1.45" fill="#fff" />
<line x1="434" y1="390" x2="436.4" y2="390" stroke="#141414" stroke-width="1.01" />
<line x1="434" y1="395.4" x2="436.4" y2="395.4" stroke="#141414" stroke-width="1.01" />
<line x1="434" y1="408" x2="436.4" y2="408" stroke="#141414" stroke-width="1.01" />
<line x1="434" y1="413.4" x2="436.4" y2="413.4" stroke="#141414" stroke-width="1.01" />
<text x="402.5" y="344" font-size="9.5" text-anchor="middle" fill="#141414" >Gió xả</text>
<text x="507.6" y="344" font-size="9.5" text-anchor="start" fill="#141414" >Gió hút</text>
<polygon points="400,356.5 406,350 406,353.5 412,353.5 412,359.5 406,359.5 406,363" stroke="#141414" stroke-width="1.3" fill="#fff" />
<polygon points="508,356.5 514,350 514,353.5 520,353.5 520,359.5 514,359.5 514,363" stroke="#141414" stroke-width="1.3" fill="#fff" />
<rect x="433.1" y="505.6" width="66.3" height="33.2" rx="0" stroke="#141414" stroke-width="1.45" fill="#fff" />
<line x1="432.5" y1="540.6" x2="503.75" y2="540.6" stroke="#141414" stroke-width="2.99" />
<line x1="450" y1="505.6" x2="450" y2="513" stroke="#141414" stroke-width="1.3" />
<line x1="454.4" y1="505.6" x2="454.4" y2="510" stroke="#141414" stroke-width="1.3" />
<rect x="465" y="506.25" width="31.25" height="5.65" rx="1" stroke="#141414" stroke-width="0" fill="#2a2a2a" />
<circle cx="467.5" cy="509" r="1.8" stroke="#141414" stroke-width="0" fill="#bbb"/>
<circle cx="493.5" cy="509" r="1.8" stroke="#141414" stroke-width="0" fill="#bbb"/>
<rect x="466.25" y="513" width="28.75" height="20.1" rx="0" stroke="#141414" stroke-width="1.45" fill="#fff" />
<rect x="467.6" y="514.3" width="26" height="17.5" rx="0" stroke="#141414" stroke-width="1.01" fill="#fff" />
<line x1="470" y1="516.0" x2="489.4" y2="516.0" stroke="#222" stroke-width="1.49" />
<line x1="470" y1="518.9" x2="489.4" y2="518.9" stroke="#222" stroke-width="1.49" />
<line x1="470" y1="521.8" x2="489.4" y2="521.8" stroke="#222" stroke-width="1.49" />
<line x1="470" y1="524.7" x2="489.4" y2="524.7" stroke="#222" stroke-width="1.49" />
<line x1="470" y1="527.6" x2="489.4" y2="527.6" stroke="#222" stroke-width="1.49" />
<line x1="470" y1="530.5" x2="489.4" y2="530.5" stroke="#222" stroke-width="1.49" />
<line x1="460.6" y1="508.75" x2="460.6" y2="535.6" stroke="#141414" stroke-width="1.38" />
<line x1="463.1" y1="508.75" x2="463.1" y2="535.6" stroke="#141414" stroke-width="1.38" />
<line x1="460" y1="533.75" x2="499.4" y2="533.75" stroke="#141414" stroke-width="1.16" />
<line x1="460" y1="535.6" x2="499.4" y2="535.6" stroke="#141414" stroke-width="1.16" />
<path d="M439.4,538.8 L439.4,520.8 Q439.4,515.6 444.7,515.6 Q450,515.6 450,520.8 L450,538.8" stroke="#141414" stroke-width="1.59" fill="none" />
<line x1="441.9" y1="521" x2="441.9" y2="538.8" stroke="#141414" stroke-width="0.87" />
<line x1="447.5" y1="521" x2="447.5" y2="538.8" stroke="#141414" stroke-width="0.87" />
<circle cx="455" cy="513.1" r="2.4" stroke="#141414" stroke-width="1.3" fill="#2a2a2a"/>
<circle cx="455" cy="520" r="2.4" stroke="#141414" stroke-width="1.3" fill="#2a2a2a"/>
<circle cx="455" cy="526.9" r="2.4" stroke="#141414" stroke-width="1.3" fill="#2a2a2a"/>
<circle cx="448.75" cy="513.1" r="1.3" stroke="#141414" stroke-width="0" fill="#222"/>
<text x="441" y="477" font-size="9" stroke="#141414" stroke-width="0.18" text-anchor="middle" fill="#141414" >35</text>
<line x1="433" y1="478.5" x2="466" y2="478.5" stroke="#141414" stroke-width="1.16" />
<polygon points="448.60,478.50 441.10,476.60 441.10,480.40" fill="#141414" stroke="none"/>
<polygon points="455.50,478.50 463.00,476.60 463.00,480.40" fill="#141414" stroke="none"/>
<line x1="448.6" y1="474" x2="448.6" y2="505.5" stroke="#141414" stroke-width="1.16" />
<line x1="455.5" y1="474" x2="455.5" y2="505.5" stroke="#141414" stroke-width="1.16" />
<line x1="406.7" y1="512.6" x2="433.5" y2="512.6" stroke="#141414" stroke-width="1.16" />
<line x1="383.4" y1="521" x2="433.5" y2="521" stroke="#141414" stroke-width="1.16" />
<line x1="401.7" y1="528.75" x2="433.5" y2="528.75" stroke="#141414" stroke-width="1.16" />
<line x1="383.4" y1="541.8" x2="433.5" y2="541.8" stroke="#141414" stroke-width="1.16" />
<line x1="389.2" y1="502.5" x2="389.2" y2="558.5" stroke="#141414" stroke-width="1.16" />
<polygon points="389.20,521.00 387.30,513.50 391.10,513.50" fill="#141414" stroke="none"/>
<polygon points="389.20,541.80 387.30,549.30 391.10,549.30" fill="#141414" stroke="none"/>
<line x1="412.6" y1="493.4" x2="412.6" y2="559.3" stroke="#141414" stroke-width="1.16" />
<polygon points="412.60,512.60 410.70,505.10 414.50,505.10" fill="#141414" stroke="none"/>
<polygon points="412.60,541.80 410.70,549.30 414.50,549.30" fill="#141414" stroke="none"/>
<polygon points="408.00,523.00 407.43,528.22 404.51,526.92" fill="#141414" stroke="none"/>
<line x1="404" y1="532" x2="402" y2="536" stroke="#141414" stroke-width="1.01" />
<text transform="translate(408,500.5) rotate(-90)" x="0" y="3.24" font-size="9" stroke="#141414" stroke-width="0.18" text-anchor="middle" fill="#141414" >39</text>
<text transform="translate(383.3,533) rotate(-90)" x="0" y="3.24" font-size="9" stroke="#141414" stroke-width="0.18" text-anchor="middle" fill="#141414" >121</text>
<text transform="translate(399.6,535) rotate(-90)" x="0" y="3.24" font-size="9" stroke="#141414" stroke-width="0.18" text-anchor="middle" fill="#141414" >48</text>
<text transform="translate(407.5,535) rotate(-90)" x="0" y="3.24" font-size="9" stroke="#141414" stroke-width="0.18" text-anchor="middle" fill="#141414" >82</text>
<line x1="429.3" y1="541" x2="429.3" y2="580" stroke="#141414" stroke-width="1.3" />
<line x1="440" y1="541" x2="440" y2="562" stroke="#141414" stroke-width="1.3" />
<line x1="444.8" y1="541" x2="444.8" y2="582" stroke="#141414" stroke-width="1.3" />
<line x1="450.2" y1="541" x2="450.2" y2="563" stroke="#141414" stroke-width="1.3" />
<line x1="454.8" y1="541" x2="454.8" y2="582" stroke="#141414" stroke-width="1.3" />
<line x1="421.7" y1="556.9" x2="468.6" y2="556.9" stroke="#141414" stroke-width="1.3" />
<polygon points="440.00,556.90 432.50,555.00 432.50,558.80" fill="#141414" stroke="none"/>
<polygon points="450.20,556.90 457.70,555.00 457.70,558.80" fill="#141414" stroke="none"/>
<text x="463.2" y="556" font-size="9" stroke="#141414" stroke-width="0.18" text-anchor="middle" fill="#141414" >60</text>
<line x1="411.7" y1="575.3" x2="473.6" y2="575.3" stroke="#141414" stroke-width="1.3" />
<polygon points="429.30,575.30 421.80,573.40 421.80,577.20" fill="#141414" stroke="none"/>
<polygon points="454.80,575.30 462.30,573.40 462.30,577.20" fill="#141414" stroke="none"/>
<text x="436.4" y="574" font-size="9" stroke="#141414" stroke-width="0.18" text-anchor="middle" fill="#141414" >89</text>
<text x="463.2" y="574" font-size="9" stroke="#141414" stroke-width="0.18" text-anchor="middle" fill="#141414" >60</text>
<line x1="518" y1="441" x2="455" y2="513.1" stroke="#141414" stroke-width="1.3" />
<line x1="517" y1="463" x2="455" y2="520" stroke="#141414" stroke-width="1.3" />
<line x1="517" y1="484" x2="455" y2="526.9" stroke="#141414" stroke-width="1.3" />
<line x1="516" y1="505" x2="466.25" y2="523.75" stroke="#141414" stroke-width="1.3" />
<circle cx="526.8" cy="434.4" r="9.4" stroke="#141414" stroke-width="1.09" fill="#fff"/>
<text x="526.8" y="439.08" font-size="13" stroke="#141414" stroke-width="0.05" text-anchor="middle" fill="#141414" >5</text>
<circle cx="526.8" cy="456.6" r="9.4" stroke="#141414" stroke-width="1.09" fill="#fff"/>
<text x="526.8" y="461.28" font-size="13" stroke="#141414" stroke-width="0.05" text-anchor="middle" fill="#141414" >6</text>
<circle cx="526.8" cy="479" r="9.4" stroke="#141414" stroke-width="1.09" fill="#fff"/>
<text x="526.8" y="483.68" font-size="13" stroke="#141414" stroke-width="0.05" text-anchor="middle" fill="#141414" >7</text>
<circle cx="526.8" cy="501.6" r="9.4" stroke="#141414" stroke-width="1.09" fill="#fff"/>
<text x="526.8" y="506.28" font-size="13" stroke="#141414" stroke-width="0.05" text-anchor="middle" fill="#141414" >8</text>
<line x1="484" y1="557" x2="462.7" y2="542.7" stroke="#141414" stroke-width="1.3" />
<circle cx="491.5" cy="564" r="9.6" stroke="#141414" stroke-width="1.09" fill="#fff"/>
<text x="491.5" y="568.68" font-size="13" stroke="#141414" stroke-width="0.05" text-anchor="middle" fill="#141414" >4</text>
<text x="568" y="523.5" font-size="10" font-weight="bold" text-anchor="middle" fill="#141414" >Hướng nhìn Z</text>
<line x1="528" y1="526.5" x2="604" y2="526.5" stroke="#141414" stroke-width="1.45" />
<polygon points="526.00,526.50 533.00,524.30 533.00,528.70" fill="#141414" stroke="none"/>
</svg></body></html>
